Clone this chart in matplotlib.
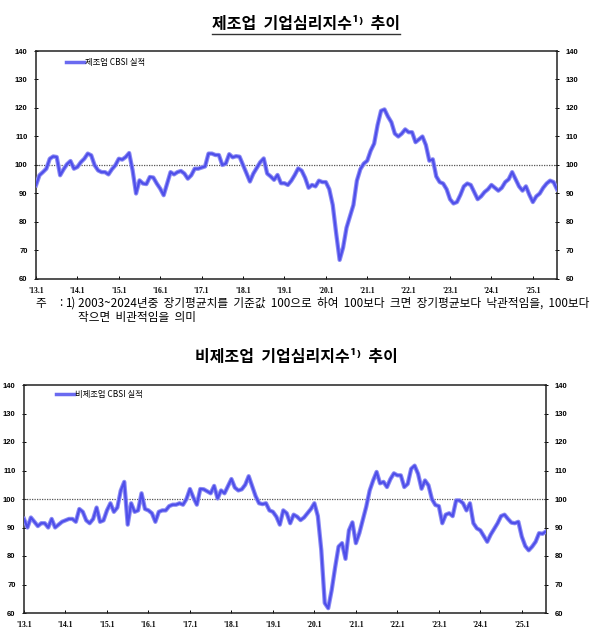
import numpy as np
import matplotlib
matplotlib.use("Agg")
import matplotlib.pyplot as plt
from matplotlib.lines import Line2D

plt.rcParams['font.family'] = ['Noto Sans CJK KR', 'DejaVu Sans']

# monthly index, 2013.1 ~ 2025.8
mfg = [92.9, 96.4, 97.5, 98.7, 102.2, 103, 102.8, 96.4, 98.5, 100.3, 101.4, 98.7,
       99.3, 101, 102.2, 104, 103.4, 99.9, 98.1, 97.5, 97.5, 96.7, 98.5, 99.9,
       102.2, 101.9, 102.8, 104.2, 98.1, 90, 94.6, 93.5, 93.3, 95.8, 95.6, 93.5,
       91.7, 89.4, 93.5, 97.5, 96.7, 97.5, 97.9, 97, 95.2, 96.4, 98.7, 98.7,
       99.1, 99.5, 104, 104, 103.5, 103.5, 100, 100.5, 103.8, 102.7, 103.1, 102.9,
       100, 97, 94.2, 97, 99, 101, 102.3, 97, 96, 94.8, 96.5, 93.6,
       93.6, 93, 94.5, 96.5, 98.8, 98, 95.5, 92, 93, 92.5, 94.5, 94,
       94, 91.5, 86, 76, 66.7, 71, 78, 82, 86, 94.5, 98.5, 100.5,
       101.5, 105, 107.5, 114, 119, 119.5, 117, 115, 111, 110, 111, 112.5,
       111.5, 111.5, 108, 109, 110, 107, 101.5, 102, 96, 94, 93.5, 91.5,
       88, 86.5, 87, 89.5, 92.5, 93.5, 93, 90.5, 88, 89, 90.5, 91.5,
       93, 92, 91, 92, 94, 95, 97.5, 95, 92.5, 91, 92.5, 89.5,
       87, 89, 90, 92, 93.5, 94.5, 94, 91.5]

nonmfg = [93, 90, 93.5, 92, 90.5, 91.5, 91.5, 90, 93, 90, 91, 92,
          92.5, 93, 93, 92, 96.5, 95.5, 92.5, 91.5, 93, 97, 92, 92.5,
          96, 98.5, 95.5, 97, 103, 106, 91, 98.5, 95.5, 96, 102, 96.5,
          96, 95, 92, 95.5, 96, 96, 97.5, 98, 98, 98.5, 98, 100,
          103.5, 100.5, 98, 103.5, 103.4, 102.7, 102, 104.6, 100.2, 103, 102, 104.5,
          107, 104, 103, 103.4, 105, 108, 104.5, 101, 98.5, 98.2, 98.5, 96,
          95.5, 93.8, 91, 96, 95, 91.5, 94.5, 93.8, 92.6, 93.5, 95, 96.5,
          98.5, 94, 82, 63.5, 61.7, 68, 76, 83.3, 84.5, 79, 89, 91.8,
          84.5, 88, 92.6, 97.3, 103, 106.5, 109.5, 105.5, 106, 104.2, 107, 109,
          108.3, 108.3, 104.2, 105.3, 110.6, 111.7, 108.8, 103.6, 106.5, 104.8, 100, 97.9,
          97.5, 91.5, 94.5, 95, 94, 99.5, 99.5, 98.5, 96, 98.5, 91.5, 89.7,
          89, 87, 85, 87.5, 89.5, 91.5, 94, 94.5, 93, 91.7, 91.5, 92,
          86.8, 83.5, 82, 83.3, 85, 88, 87.8, 88.6]

year_labels = ["'13.1", "'14.1", "'15.1", "'16.1", "'17.1", "'18.1", "'19.1",
               "'20.1", "'21.1", "'22.1", "'23.1", "'24.1", "'25.1"]

W, H = 600, 634
fig = plt.figure(figsize=(W / 100, H / 100), dpi=100)


def px_rect(x0, y0, x1, y1):
    # pixel box (top-left origin) -> figure fraction
    return [x0 / W, 1 - y1 / H, (x1 - x0) / W, (y1 - y0) / H]


def panel(rect, vals, label, ypad, leg_xy):
    ax = fig.add_axes(rect)
    x = np.arange(len(vals))
    ax.plot(x, vals, color='#8c8cf4', lw=3.1, solid_joinstyle='round', zorder=3)
    ax.plot(x, vals, color='#4f4fea', lw=1.6, solid_joinstyle='round', zorder=4)
    ax.axhline(100, color='#555555', lw=0.9, ls=(0, (1, 1)), zorder=2)
    ax.set_xlim(0, len(vals) - 1)
    ax.set_ylim(60, 140)
    ax.set_yticks(range(60, 141, 10))
    ax.set_xticks(range(0, len(vals), 12))
    ax.set_xticklabels(year_labels, family='Liberation Serif', fontweight='bold', fontsize=5.5)
    ax.tick_params(axis='y', labelsize=5.5, direction='inout', length=3, width=0.7,
                   right=True, labelright=True, pad=ypad)
    for t in ax.get_yticklabels() + ax.yaxis.get_majorticklabels():
        t.set_family('Liberation Sans')
        t.set_fontweight('bold')
    for tk in ax.yaxis.get_major_ticks():
        tk.label2.set_family('Liberation Sans')
        tk.label2.set_fontweight('bold')
    ax.tick_params(axis='x', direction='in', length=2.5, width=0.7, pad=6)
    for s in ax.spines.values():
        s.set_linewidth(1.1)
        s.set_color('#222222')
    h = Line2D([], [], color='#6a6af0', lw=2.5)
    ax.legend([h], [label], loc='upper left', bbox_to_anchor=leg_xy, frameon=False,
              fontsize=6, handlelength=2.2, handletextpad=0.05, borderpad=0,
              borderaxespad=0)
    return ax


ax1 = panel(px_rect(36, 51, 557, 279), mfg, '제조업 CBSI 실적', 4.5,
            ((66 - 36) / 521, (279 - 58) / 228))
ax2 = panel(px_rect(24, 385, 546, 613), nonmfg, '비제조업 CBSI 실적', 4.5,
            ((56 - 24) / 522, (613 - 390) / 228))

t1 = fig.text(306 / W, 1 - 24 / H, '제조업  기업심리지수¹⁾  추이', ha='center', va='center',
              fontsize=11.5, fontweight='bold')
t2 = fig.text(296 / W, 1 - 357 / H, '비제조업  기업심리지수¹⁾  추이', ha='center', va='center',
              fontsize=11.5, fontweight='bold')

fs = 8.4
fig.text(35 / W, 1 - 303 / H, '주', ha='left', va='center', fontsize=fs)
fig.text(59 / W, 1 - 303 / H, ':', ha='left', va='center', fontsize=fs)
fig.text(65 / W, 1 - 303 / H, '1)', ha='left', va='center', fontsize=fs)
fig.text(78 / W, 1 - 303 / H,
         '2003~2024년중  장기평균치를  기준값  100으로  하여  100보다  크면  장기평균보다  낙관적임을,  100보다',
         ha='left', va='center', fontsize=fs)
fig.text(78 / W, 1 - 318 / H, '작으면  비관적임을  의미', ha='left', va='center', fontsize=fs)

# underline under the top title
fig.canvas.draw()
bb = t1.get_window_extent()
fig.add_artist(Line2D([bb.x0 / W, bb.x1 / W], [1 - 34 / H, 1 - 34 / H],
                      transform=fig.transFigure, color='#333333', lw=1.0))

fig.savefig('out.png', dpi=100)
